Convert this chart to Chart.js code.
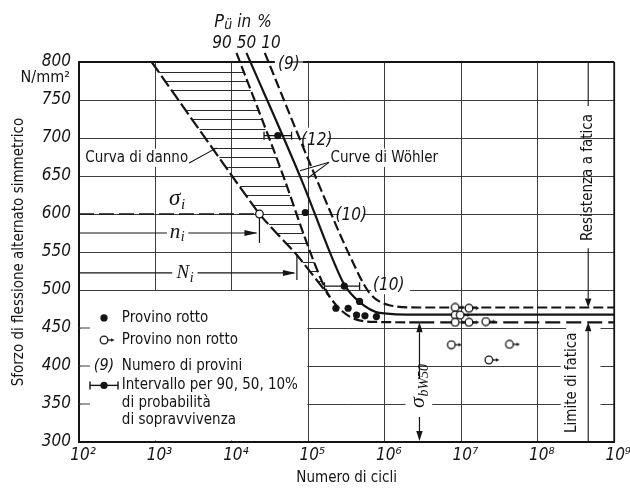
<!DOCTYPE html>
<html><head><meta charset="utf-8">
<script src="https://cdn.jsdelivr.net/npm/chart.js@4/dist/chart.umd.min.js"></script>
<style>html,body{margin:0;padding:0;background:#fff}canvas{display:block}</style>
</head><body>
<canvas id="c" width="630" height="491"></canvas>
<script>
// Wöhler diagram: alternating bending stress vs. number of cycles (log scale)
const xTickExponents = [2, 3, 4, 5, 6, 7, 8, 9];
const yTickValues = [300, 350, 400, 450, 500, 550, 600, 650, 700, 750, 800];

// Wöhler curves for 90 %, 50 % and 10 % survival probability (log10 N, N/mm²)
const w90LogN   = [4.06, 4.69, 4.95, 5.17, 5.28, 5.54, 5.89, 6.45, 9.0];
const w90Stress = [812, 645, 570, 513, 491, 465, 458, 457.5, 457.5];
const w50LogN   = [4.19, 4.91, 5.32, 5.47, 5.67, 5.93, 6.45, 9.0];
const w50Stress = [812, 645, 540, 507, 484, 470, 467.5, 467.5];
const w10LogN   = [4.43, 4.87, 5.11, 5.565, 5.80, 6.06, 6.45, 9.0];
const w10Stress = [812, 703, 645, 540, 496, 480, 477, 477];

// damage line (ends where it joins the 90 % curve)
const damageLogN   = [2.95, 4.36, 4.85, 5.28];
const damageStress = [800, 600, 546, 491];

// broken specimens
const brokenLogN   = [4.60, 4.96, 5.47, 5.36, 5.52, 5.67, 5.63, 5.74, 5.89];
const brokenStress = [703, 602, 505, 476, 476, 485, 467, 466, 465];

// run-outs (specimens not broken)
const runoutLogN   = [6.92, 6.92, 6.985, 6.92, 7.10, 7.10, 7.32, 6.87, 7.63, 7.36];
const runoutStress = [477, 467, 467, 457.5, 476, 457.5, 458.5, 428, 428.5, 408];

// 90 / 10 % scatter intervals
const bandStress = [703, 505];
const bandLow    = [4.42, 5.21];
const bandHigh   = [4.78, 5.67];

// load level sigma_i with n_i (damage line) and N_i (90 % curve)
const sigmaI = 600;
const nILogN = 4.36;
const bigNILogN = 4.85;
const sigmaBW50 = 457.5;

const FONT = "'Liberation Sans Narrow','DejaVu Sans Condensed','Arial Narrow',sans-serif";
const MATH = "'Liberation Serif','DejaVu Serif',serif";
const INK = '#141414';
const GRID = '#3c3c3c';

const pts = (l, s) => l.map((v, i) => ({x: Math.pow(10, v), y: s[i]}));
const SUP = {'2':'²','3':'³','4':'⁴','5':'⁵','6':'⁶','7':'⁷','8':'⁸','9':'⁹'};

function runoutGlyph() {
  const c = document.createElement('canvas');
  c.width = 24; c.height = 10;
  const g = c.getContext('2d');
  g.strokeStyle = INK; g.lineWidth = 1.3; g.fillStyle = '#fff';
  g.beginPath(); g.arc(12, 5, 3.8, 0, 2 * Math.PI); g.fill(); g.stroke();
  g.beginPath(); g.moveTo(15.8, 5); g.lineTo(19.5, 5); g.stroke();
  g.fillStyle = INK;
  g.beginPath(); g.moveTo(22.5, 5); g.lineTo(19, 3.2); g.lineTo(19, 6.8); g.closePath(); g.fill();
  return c;
}
const RUNOUT = runoutGlyph();

const IDX_W90 = 6, IDX_DAMAGE = 8;

const datasets = [
  {label: 'Provino non rotto', data: pts(runoutLogN, runoutStress), showLine: false,
   pointStyle: RUNOUT, pointRadius: 5},
  {label: 'Provino rotto', data: pts(brokenLogN, brokenStress), showLine: false,
   pointRadius: 3.6, pointBackgroundColor: INK, pointBorderColor: INK, pointBorderWidth: 0},
  {label: 'sigma_i', data: [{x: Math.pow(10, nILogN), y: sigmaI}], showLine: false,
   pointRadius: 3.8, pointBackgroundColor: '#fff', pointBorderColor: INK, pointBorderWidth: 1.3},
  {label: 'band 1', data: [{x: Math.pow(10, bandLow[0]), y: bandStress[0]}, {x: Math.pow(10, bandHigh[0]), y: bandStress[0]}],
   borderColor: INK, borderWidth: 1.3, pointStyle: 'line', rotation: 90, pointRadius: 4, pointBorderColor: INK, pointBorderWidth: 1.3},
  {label: 'band 2', data: [{x: Math.pow(10, bandLow[1]), y: bandStress[1]}, {x: Math.pow(10, bandHigh[1]), y: bandStress[1]}],
   borderColor: INK, borderWidth: 1.3, pointStyle: 'line', rotation: 90, pointRadius: 4, pointBorderColor: INK, pointBorderWidth: 1.3},
  {label: '50 %', data: pts(w50LogN, w50Stress), borderColor: INK, borderWidth: 2.2, pointRadius: 0,
   cubicInterpolationMode: 'monotone', clip: false},
  {label: '90 %', data: pts(w90LogN, w90Stress), borderColor: INK, borderWidth: 2.2, pointRadius: 0,
   cubicInterpolationMode: 'monotone', clip: false,
   segment: {borderDash: c => c.p0.parsed.x >= Math.pow(10, 5.9) ? [15, 6] : [10, 4]}},
  {label: '10 %', data: pts(w10LogN, w10Stress), borderColor: INK, borderWidth: 2.2, pointRadius: 0,
   cubicInterpolationMode: 'monotone', clip: false, borderDash: [10, 4]},
  {label: 'Curva di danno', data: pts(damageLogN, damageStress), borderColor: INK, borderWidth: 2.2, pointRadius: 0,
   borderDash: [13, 4], tension: 0.15, clip: false}
];

function txt(ctx, s, x, y, font, align, base) {
  ctx.font = font; ctx.textAlign = align || 'left'; ctx.textBaseline = base || 'middle';
  ctx.fillText(s, x, y);
}
function subText(ctx, main, sub, cx, cy, mainFont, subFont, subDrop) {
  ctx.textBaseline = 'alphabetic'; ctx.textAlign = 'left';
  ctx.font = mainFont; const w1 = ctx.measureText(main).width;
  ctx.font = subFont; const w2 = ctx.measureText(sub).width;
  const x0 = cx - (w1 + w2) / 2;
  ctx.font = mainFont; ctx.fillText(main, x0, cy);
  ctx.font = subFont; ctx.fillText(sub, x0 + w1 + 0.5, cy + subDrop);
}
function head(ctx, x, y, dir, len, hw) {
  ctx.beginPath(); ctx.moveTo(x, y);
  if (dir === 'right') { ctx.lineTo(x - len, y - hw); ctx.lineTo(x - len, y + hw); }
  if (dir === 'up')    { ctx.lineTo(x - hw, y + len); ctx.lineTo(x + hw, y + len); }
  if (dir === 'down')  { ctx.lineTo(x - hw, y - len); ctx.lineTo(x + hw, y - len); }
  ctx.closePath(); ctx.fill();
}
function seg(ctx, x1, y1, x2, y2) { ctx.beginPath(); ctx.moveTo(x1, y1); ctx.lineTo(x2, y2); ctx.stroke(); }
function white(ctx, x1, y1, x2, y2) { ctx.fillStyle = '#fff'; ctx.fillRect(x1, y1, x2 - x1, y2 - y1); }

const decor = {
  id: 'decor',
  beforeDatasetsDraw(chart) {
    const {ctx, chartArea: a} = chart;
    const xs = chart.scales.x, ys = chart.scales.y;
    const X = l => xs.getPixelForValue(Math.pow(10, l));
    const Y = s => ys.getPixelForValue(s);
    ctx.save();
    // clear grid behind the key
    white(ctx, a.left + 1.5, Y(500) + 1, X(5) - 1, a.bottom - 1.5);
    ctx.strokeStyle = GRID; ctx.lineWidth = 1;
    [350, 400, 450].forEach(v => seg(ctx, a.left, Y(v), a.left + 11, Y(v)));
    // clear grid behind labels
    white(ctx, X(4.56), Y(800) - 8, X(4.93), Y(800) + 8);
    white(ctx, X(4.97), Y(703) - 8, X(5.25), Y(703) + 8);
    white(ctx, X(5.27), Y(686), X(6.72), Y(662));
    white(ctx, X(2.1), Y(686), X(3.42), Y(662));
    white(ctx, X(5.40), Y(600) - 8, X(5.72), Y(600) + 8);
    white(ctx, X(5.82), Y(505) - 8, X(6.33), Y(505) + 8);
    white(ctx, X(6.27), Y(385.5), X(6.62), Y(330));
    white(ctx, X(8.37), Y(494), X(8.82), Y(315));
    white(ctx, X(8.30), Y(427), X(8.62), Y(300) - 2);
    // frame top and right
    ctx.strokeStyle = INK; ctx.lineWidth = 1.8;
    seg(ctx, a.left, a.top, X(4.56), a.top);
    seg(ctx, X(4.93), a.top, a.right, a.top);
    seg(ctx, a.right, a.top, a.right, a.bottom);
    // hatching between damage line and 90 % curve
    const dm = chart.getDatasetMeta(IDX_DAMAGE).data, wm = chart.getDatasetMeta(IDX_W90).data;
    ctx.save();
    ctx.beginPath();
    dm.forEach((p, i) => i ? ctx.lineTo(p.x, p.y) : ctx.moveTo(p.x, p.y));
    for (let i = 4; i >= 0; i--) ctx.lineTo(wm[i].x, wm[i].y);
    ctx.closePath(); ctx.clip();
    ctx.strokeStyle = '#2a2a2a'; ctx.lineWidth = 1;
    for (let s = 787.5; s > 480; s -= 12.5) seg(ctx, a.left, Math.round(Y(s)) + 0.5, a.right, Math.round(Y(s)) + 0.5);
    ctx.restore();
    // sigma_i level line
    ctx.strokeStyle = INK; ctx.fillStyle = INK; ctx.lineWidth = 1.6;
    ctx.setLineDash([15, 5]);
    seg(ctx, a.left, Y(sigmaI), X(nILogN) - 3.8, Y(sigmaI));
    ctx.setLineDash([]);
    // n_i arrow
    ctx.lineWidth = 1.2;
    const yn = Y(575);
    seg(ctx, a.left, yn, X(3.15), yn); seg(ctx, X(3.43), yn, X(nILogN) - 3, yn);
    head(ctx, X(nILogN) - 2, yn, 'right', 13, 3);
    seg(ctx, X(nILogN), Y(sigmaI) + 3.8, X(nILogN), Y(562));
    // N_i arrow
    const yN = Y(522.5);
    seg(ctx, a.left, yN, X(3.22), yN); seg(ctx, X(3.55), yN, X(bigNILogN) - 3, yN);
    head(ctx, X(bigNILogN) - 1, yN, 'right', 13, 3);
    seg(ctx, X(bigNILogN), Y(546), X(bigNILogN), Y(513));
    // sigma_bW50 dimension line
    const xb = X(6.453);
    seg(ctx, xb, Y(sigmaBW50) + 10, xb, Y(383)); seg(ctx, xb, Y(333), xb, a.bottom - 10);
    head(ctx, xb, Y(sigmaBW50), 'up', 10, 3.2);
    head(ctx, xb, a.bottom - 1, 'down', 10, 3.2);
    // fatigue strength marker on the right
    const xr = X(8.66);
    ctx.lineWidth = 1.1;
    seg(ctx, xr, a.top, xr, Y(742)); seg(ctx, xr, Y(555), xr, Y(477) - 9);
    head(ctx, xr, Y(477), 'down', 9, 3.2);
    head(ctx, xr, Y(457.5), 'up', 9, 3.2);
    seg(ctx, xr, Y(457.5) + 9, xr, a.bottom);
    // leader lines
    seg(ctx, X(3.44), Y(667), X(3.80), Y(687));
    seg(ctx, X(5.27), Y(668), X(4.89), Y(657));
    seg(ctx, X(5.27), Y(668), X(4.99), Y(647));
    seg(ctx, X(4.79), Y(800), X(4.93), Y(800));
    // texts
    ctx.fillStyle = INK;
    const F = (sz, it) => (it ? 'italic ' : '') + sz + 'px ' + FONT;
    txt(ctx, '(9)', X(4.745), Y(797), F(17, true), 'center');
    txt(ctx, '(12)', X(5.11), Y(697), F(17, true), 'center');
    txt(ctx, '(10)', X(5.56), Y(598.5), F(17, true), 'center');
    txt(ctx, '(10)', X(6.05), Y(505.5), F(17, true), 'center');
    txt(ctx, 'Curve di Wöhler', X(5.29), Y(674), F(15), 'left');
    txt(ctx, 'Curva di danno', X(2.755), Y(674), F(15), 'center');
    // P_ü header
    ctx.textBaseline = 'alphabetic'; ctx.textAlign = 'left';
    ctx.font = 'italic 18px ' + FONT; ctx.fillText('P', X(3.77), a.top - 35);
    ctx.font = 'italic 14px ' + FONT; ctx.fillText('ü', X(3.77) + 10, a.top - 33);
    ctx.font = 'italic 17px ' + FONT; ctx.fillText('in', X(4.07), a.top - 35);
    ctx.fillText('%', X(4.33), a.top - 35);
    txt(ctx, '90', X(3.87), a.top - 18, F(17, true), 'center');
    txt(ctx, '50', X(4.19), a.top - 18, F(17, true), 'center');
    txt(ctx, '10', X(4.51), a.top - 18, F(17, true), 'center');
    // symbols
    subText(ctx, 'σ', 'i', X(3.28), Y(612), 'italic 23px ' + MATH, 'italic 15px ' + MATH, 4);
    subText(ctx, 'n', 'i', X(3.28), Y(569), 'italic 21px ' + MATH, 'italic 14px ' + MATH, 3);
    subText(ctx, 'N', 'i', X(3.385), Y(516), 'italic 19px ' + MATH, 'italic 14px ' + MATH, 4);
    ctx.save();
    ctx.translate(xb + 5, Y(373.5)); ctx.rotate(-Math.PI / 2);
    subText(ctx, 'σ', 'bW50', 0, 0, 'italic 22px ' + MATH, 'italic 14px ' + MATH, 4);
    ctx.restore();
    ctx.save();
    ctx.translate(xr, Y(648)); ctx.rotate(-Math.PI / 2);
    txt(ctx, 'Resistenza a fatica', 0, 0, F(15), 'center');
    ctx.restore();
    ctx.save();
    ctx.translate(X(8.45), Y(378)); ctx.rotate(-Math.PI / 2);
    txt(ctx, 'Limite di fatica', 0, 0, F(15), 'center');
    ctx.restore();
    // N/mm² unit
    txt(ctx, 'N/mm²', a.left - 9, a.top + 16, F(16), 'right');
    // key
    const kx = X(2.327), tx = X(2.56);
    ctx.beginPath(); ctx.arc(kx, Y(463.2), 3.6, 0, 2 * Math.PI); ctx.fill();
    txt(ctx, 'Provino rotto', tx, Y(463.2), F(15), 'left');
    ctx.drawImage(RUNOUT, kx - 12, Y(434.2) - 5);
    txt(ctx, 'Provino non rotto', tx, Y(434.2), F(15), 'left');
    txt(ctx, '(9)', kx, Y(400), F(16, true), 'center');
    txt(ctx, 'Numero di provini', tx, Y(400), F(15), 'left');
    ctx.lineWidth = 1.4;
    const yk = Y(374.5);
    seg(ctx, kx - 14, yk, kx + 14, yk);
    seg(ctx, kx - 14, yk - 4, kx - 14, yk + 4); seg(ctx, kx + 14, yk - 4, kx + 14, yk + 4);
    ctx.beginPath(); ctx.arc(kx, yk, 3.6, 0, 2 * Math.PI); ctx.fill();
    txt(ctx, 'Intervallo per 90, 50, 10%', tx, yk, F(15), 'left');
    txt(ctx, 'di probabilità', tx, Y(351), F(15), 'left');
    txt(ctx, 'di sopravvivenza', tx, Y(328.5), F(15), 'left');
    ctx.restore();
  }
};

new Chart(document.getElementById('c'), {
  type: 'line',
  data: {datasets},
  plugins: [decor],
  options: {
    responsive: false, animation: false, devicePixelRatio: 1, events: [],
    layout: {padding: {top: 62, right: 15, left: 0, bottom: 0}},
    plugins: {legend: {display: false}, tooltip: {enabled: false}},
    scales: {
      x: {
        type: 'logarithmic', min: 100, max: 1e9,
        afterBuildTicks: s => { s.ticks = xTickExponents.map(e => ({value: Math.pow(10, e)})); },
        afterFit: s => { s.height = 49; },
        ticks: {autoSkip: false, maxRotation: 0, padding: 3, labelOffset: 4, color: INK,
                font: {family: FONT, size: 17, style: 'italic'},
                callback: v => '10' + SUP[String(Math.round(Math.log10(v)))]},
        grid: {color: GRID, lineWidth: 1, drawTicks: false},
        border: {color: INK, width: 2},
        title: {display: true, text: 'Numero di cicli', color: INK, font: {family: FONT, size: 15},
                padding: {top: 0, bottom: 4}}
      },
      y: {
        type: 'linear', min: 300, max: 800,
        afterBuildTicks: s => { s.ticks = yTickValues.map(v => ({value: v})); },
        afterFit: s => { s.width = 79; },
        ticks: {padding: 8, color: INK, font: {family: FONT, size: 17, style: 'italic'}},
        grid: {color: GRID, lineWidth: 1, drawTicks: false},
        border: {color: INK, width: 2},
        title: {display: true, text: 'Sforzo di flessione alternato simmetrico', color: INK,
                font: {family: FONT, size: 15}, padding: {top: 10, bottom: 0}}
      }
    }
  }
});
</script>
</body></html>
